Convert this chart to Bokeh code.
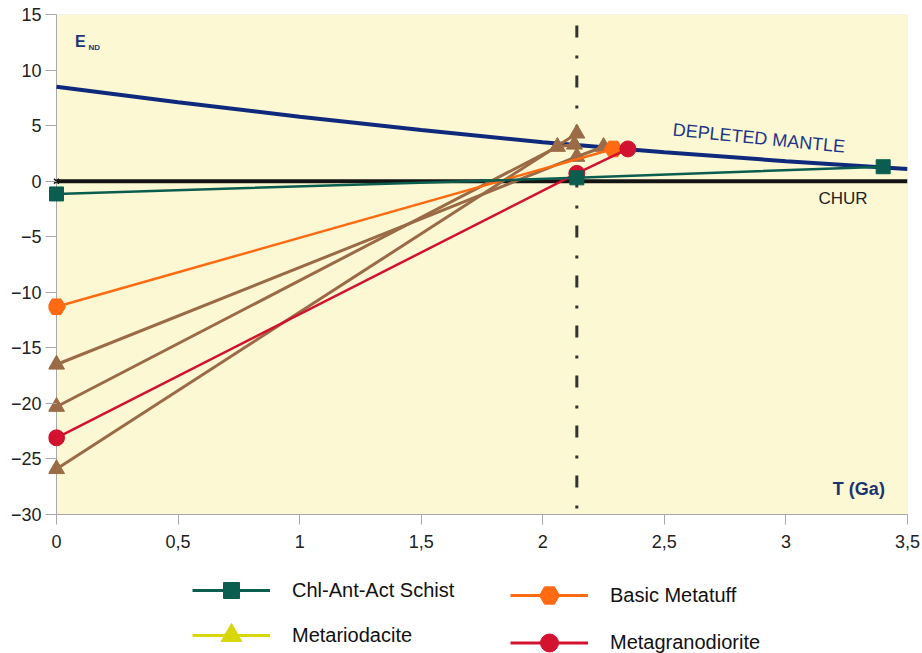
from bokeh.plotting import figure
from bokeh.models import Range1d, FixedTicker, Label, Legend, LegendItem, BoxAnnotation, Span
from bokeh.layouts import column
from bokeh.embed import file_html
from bokeh.resources import INLINE

# ---------------- data ----------------
dm_t = [0.0, 0.5, 1.0, 1.5, 2.0, 2.5, 3.0, 3.5]
dm_e = [8.5, 7.1, 5.8, 4.6, 3.5, 2.6, 1.8, 1.1]

chur_t = [0.0, 3.5]
chur_e = [0.0, 0.0]

schist_t = [0.0, 2.14, 3.4]
schist_e = [-1.15, 0.3, 1.3]

tuff_t = [0.0, 2.29]
tuff_e = [-11.3, 2.9]

grano_t = [0.0, 2.14, 2.35]
grano_e = [-23.1, 0.7, 2.9]

dacite_a_t = [0.0, 2.14]
dacite_a_e = [-25.9, 4.3]
dacite_b_t = [0.0, 2.06, 2.13]
dacite_b_e = [-20.3, 3.1, 3.3]
dacite_c_t = [0.0, 2.14, 2.25]
dacite_c_e = [-16.5, 2.2, 3.1]

age_line_t = 2.14

x_min, x_max = 0.0, 3.5
y_min, y_max = -30.0, 15.0
y_ticks = [-30, -25, -20, -15, -10, -5, 0, 5, 10, 15]
x_ticks = [0, 0.5, 1, 1.5, 2, 2.5, 3, 3.5]
x_tick_labels = ["0", "0,5", "1", "1,5", "2", "2,5", "3", "3,5"]

legend_labels = ["Chl-Ant-Act Schist", "Metariodacite", "Basic Metatuff", "Metagranodiorite"]

# ---------------- styles ----------------
FONT = "Liberation Sans"
C_DM = "#0f2a7c"
C_CHUR = "#141414"
C_SCHIST = "#0b5e4f"
C_TUFF = "#ff6a12"
C_GRANO = "#d3122f"
C_DACITE = "#9a6b46"
C_DACITE_LEG = "#d7d70c"
BG = "#fcf8d3"
AXIS_GRAY = "#a8a8a8"

# frame extends 8 px left of T=0 so markers on the axis are not clipped
pad_left = 8 * (x_max - x_min) / 851.0

p = figure(width=922, height=564, output_backend="svg", toolbar_location=None,
           x_range=Range1d(x_min - pad_left, x_max), y_range=Range1d(y_min, y_max),
           min_border_left=48, min_border_right=15, min_border_top=14,
           min_border_bottom=50)
p.background_fill_color = "white"
p.border_fill_color = "white"
p.outline_line_color = None
p.xgrid.visible = False
p.ygrid.visible = False

# plot area (yellow) starting at T = 0
p.add_layout(BoxAnnotation(left=x_min, right=x_max, bottom=y_min, top=y_max,
                           fill_color=BG, fill_alpha=1.0, line_color="#b8b8b8",
                           line_width=1, level="underlay"))
p.add_layout(Span(location=x_min, dimension="height", line_color=AXIS_GRAY,
                  line_width=1, level="underlay"))

for ax in (p.xaxis[0], p.yaxis[0]):
    ax.axis_line_color = AXIS_GRAY
    ax.major_tick_line_color = AXIS_GRAY
    ax.minor_tick_line_color = None
    ax.major_label_text_font = FONT
    ax.major_label_text_font_size = "18px"
    ax.major_label_text_color = "#222222"

p.xaxis.ticker = FixedTicker(ticks=x_ticks)
p.xaxis.major_label_overrides = {t: l for t, l in zip(x_ticks, x_tick_labels)}
p.xaxis.major_label_standoff = 10
p.xaxis.major_tick_out = 10
p.xaxis.major_tick_in = 0

p.yaxis.ticker = FixedTicker(ticks=y_ticks)
p.yaxis.axis_line_color = None
p.yaxis.major_tick_in = 8
p.yaxis.major_tick_out = 3
p.yaxis.major_label_standoff = 4

# reference curves
p.line(chur_t, chur_e, line_color=C_CHUR, line_width=4)
p.scatter(chur_t[:1], chur_e[:1], marker="x", size=7, line_color=C_CHUR, line_width=1.5)
p.line(dm_t, dm_e, line_color=C_DM, line_width=4)

# vertical dash-dot line
p.line([age_line_t, age_line_t], [y_max, y_min], line_color="#333333", line_width=3,
       line_dash="12 18 3 17", line_dash_offset=39)

# samples
for tt, ee in ((dacite_a_t, dacite_a_e), (dacite_b_t, dacite_b_e), (dacite_c_t, dacite_c_e)):
    p.line(tt, ee, line_color=C_DACITE, line_width=3)
    p.scatter(tt, ee, marker="triangle", size=16, fill_color=C_DACITE, line_color=C_DACITE)

p.line(tuff_t, tuff_e, line_color=C_TUFF, line_width=2.5)
p.scatter(tuff_t, tuff_e, marker="hex", size=18, fill_color=C_TUFF, line_color=C_TUFF)

p.line(grano_t, grano_e, line_color=C_GRANO, line_width=2.5)
p.scatter(grano_t, grano_e, marker="circle", size=16, fill_color=C_GRANO, line_color=C_GRANO)

p.line(schist_t, schist_e, line_color=C_SCHIST, line_width=2.5)
p.scatter(schist_t, schist_e, marker="square", size=14, fill_color=C_SCHIST, line_color=C_SCHIST)

# annotations
p.add_layout(Label(x=0.076, y=12.6, text="E", text_font=FONT, text_font_size="16px",
                   text_font_style="bold", text_color="#1b3677", text_baseline="middle"))
p.add_layout(Label(x=0.132, y=12.0, text="ND", text_font=FONT, text_font_size="8px",
                   text_font_style="bold", text_color="#1b3677", text_baseline="middle"))
p.add_layout(Label(x=2.889, y=3.87, text="DEPLETED MANTLE", text_font=FONT,
                   text_font_size="18px", text_color="#1b3688", text_align="center",
                   text_baseline="middle", angle=-0.1, angle_units="rad"))
p.add_layout(Label(x=3.235, y=-1.56, text="CHUR", text_font=FONT, text_font_size="17px",
                   text_color="#222222", text_align="center", text_baseline="middle"))
p.add_layout(Label(x=3.30, y=-27.66, text="T (Ga)", text_font=FONT, text_font_size="18px",
                   text_font_style="bold", text_color="#1b3470", text_align="center",
                   text_baseline="middle"))

# ---------------- legend figure ----------------
lf = figure(width=922, height=89, output_backend="svg", toolbar_location=None,
            x_range=Range1d(0, 1), y_range=Range1d(0, 1),
            min_border_left=0, min_border_right=0, min_border_top=0, min_border_bottom=0)
lf.axis.visible = False
lf.xgrid.visible = False
lf.ygrid.visible = False
lf.outline_line_color = None
lf.background_fill_color = "white"

nan = float("nan")

# (label, colour, marker, glyph box height -> marker size, x offset, y of centre from bottom)
legend_specs = [
    (legend_labels[0], C_SCHIST, "square", 40, 144, 63),
    (legend_labels[1], C_DACITE_LEG, "triangle", 52, 144, 18),
    (legend_labels[2], C_TUFF, "hex", 50, 462, 58),
    (legend_labels[3], C_GRANO, "circle", 45, 462, 11),
]

for label, color, marker, gh, lx, cy in legend_specs:
    lr = lf.line([nan], [nan], line_color=color, line_width=3)
    sr = lf.scatter([nan], [nan], marker=marker, fill_color=color, line_color=color)
    lg = Legend(items=[LegendItem(label=label, renderers=[lr, sr])],
                location=(lx, cy - gh / 2.0), orientation="vertical",
                glyph_width=78, glyph_height=gh, label_standoff=22, spacing=0,
                padding=0, margin=0, border_line_color=None, background_fill_alpha=0,
                label_text_font=FONT, label_text_font_size="20px",
                label_text_color="#111111")
    lf.add_layout(lg)

layout = column(p, lf, spacing=0)
open("out.html", "w").write(file_html(layout, INLINE))
